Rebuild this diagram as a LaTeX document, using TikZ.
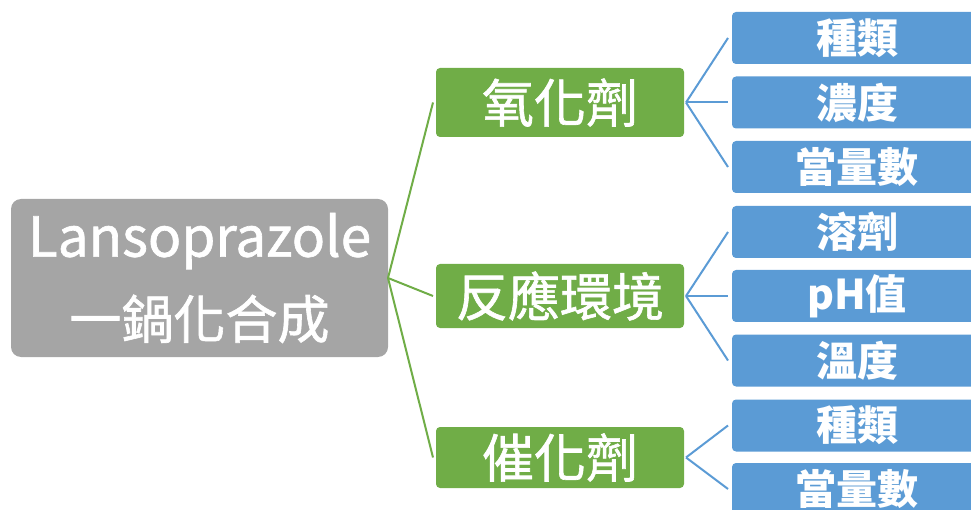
\documentclass[tikz,border=0pt]{standalone}
\usepackage{fontspec}
\newfontfamily\cjk{Noto Sans CJK TC}
\newfontfamily\cjkm[FakeBold=1.2]{Noto Sans CJK TC}
\definecolor{rootgray}{HTML}{A5A5A5}
\definecolor{mgreen}{HTML}{70AD47}
\definecolor{mblue}{HTML}{5B9BD5}
\begin{document}
\begin{tikzpicture}[x=1pt,y=-1pt,
  rootbox/.style={fill=rootgray,rounded corners=10pt,inner sep=0pt,outer sep=0pt,minimum width=377pt,minimum height=158pt,text=white,align=center,font=\cjkm\fontsize{52}{82}\selectfont},
  gbox/.style={fill=mgreen,rounded corners=4pt,inner sep=0pt,outer sep=0pt,minimum width=248pt,text=white,font=\cjkm\fontsize{52}{60}\selectfont},
  bbox/.style={fill=mblue,rounded corners=4pt,inner sep=0pt,outer sep=0pt,minimum width=250pt,minimum height=52pt,text=white,font=\cjk\bfseries\fontsize{41}{48}\selectfont},
  gline/.style={draw=mgreen,line width=2pt},
  bline/.style={draw=mblue,line width=2pt}]
\path[use as bounding box] (0,0) rectangle (971,510);
\begin{scope}
\clip (0,0) rectangle (971,510);
\node[rootbox] (root) at (199.5,278) {{\fontsize{55}{82}\selectfont Lansoprazole}\\一鍋化合成};
\node[gbox,minimum height=69pt] (ox) at (560,102.5) {氧化劑};
\node[gbox,minimum height=64pt] (env) at (560,296) {反應環境};
\node[gbox,minimum height=61pt] (cat) at (560,457.5) {催化劑};
\node[bbox] (b1) at (857,38) {種類};
\node[bbox] (b2) at (857,102.5) {濃度};
\node[bbox] (b3) at (857,167) {當量數};
\node[bbox] (b4) at (857,232) {溶劑};
\node[bbox] (b5) at (857,296) {pH值};
\node[bbox] (b6) at (857,360.5) {溫度};
\node[bbox] (b7) at (857,425.5) {種類};
\node[bbox] (b8) at (857,489) {當量數};
\draw[gline] (root.east) -- ([xshift=-3pt]ox.west);
\draw[gline] (root.east) -- ([xshift=-3pt]env.west);
\draw[gline] (root.east) -- ([xshift=-3pt]cat.west);
\foreach \s/\t in {ox/b1,ox/b2,ox/b3,env/b4,env/b5,env/b6,cat/b7,cat/b8}
  \draw[bline] ([xshift=2pt]\s.east) -- ([xshift=-4pt]\t.west);
\end{scope}
\end{tikzpicture}
\end{document}
